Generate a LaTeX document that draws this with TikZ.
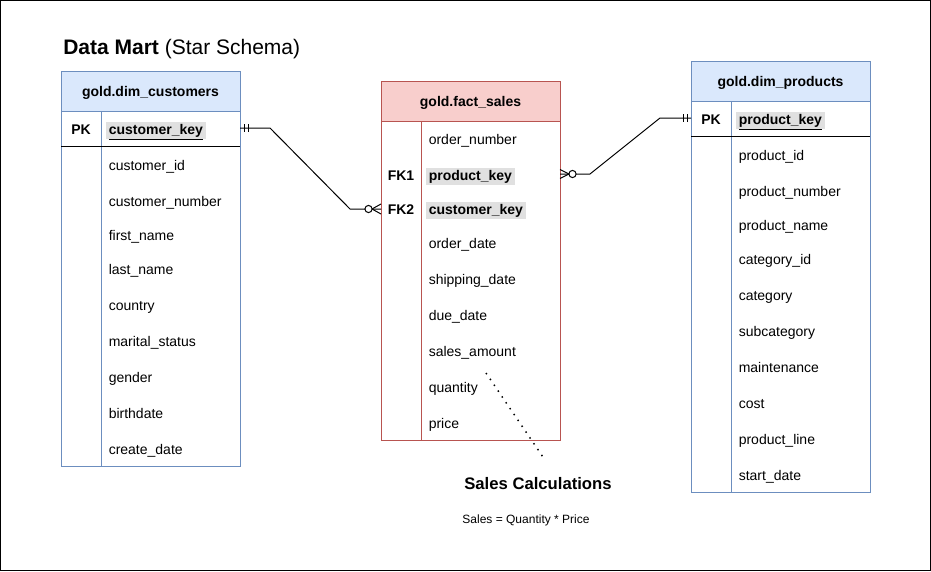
\documentclass[tikz,border=0pt]{standalone}
\usepackage{fontspec}
\setmainfont{Liberation Sans}
\usetikzlibrary{calc}
\definecolor{bluefill}{HTML}{DAE8FC}
\definecolor{blueline}{HTML}{6C8EBF}
\definecolor{redfill}{HTML}{F8CECC}
\definecolor{redline}{HTML}{B85450}
\definecolor{keybg}{HTML}{E0E0E0}
\begin{document}
\begin{tikzpicture}[x=0.75pt,y=-0.75pt,
  rowtxt/.style={anchor=base west, inner xsep=2.25pt, inner ysep=1.2pt, text height=0.75em, text depth=0.22em, font=\fontsize{10.5}{12}\selectfont},
  keytxt/.style={rowtxt, fill=keybg, font=\fontsize{10.5}{12}\selectfont\bfseries},
  lbl/.style={anchor=base, inner sep=0pt, font=\fontsize{10.5}{12}\selectfont\bfseries},
  hdr/.style={anchor=base, inner sep=0pt, font=\fontsize{10.5}{12}\selectfont\bfseries},
  rowbox/.style={minimum width=134.25pt, minimum height=27pt, inner sep=0pt, outer sep=0pt},
  conn/.style={line width=0.75pt, black},
  tblline/.style={line width=0.75pt},
  dots/.style={line width=1.1pt, dash pattern=on 1.1pt off 4.2pt, line cap=butt},
]
\useasboundingbox (0,0) rectangle (931,571);
\draw[line width=0.75pt] (0.5,0.5) rectangle (930.5,570.5);

% title
\node[anchor=base west, inner sep=0pt, font=\fontsize{15.75}{18}\selectfont] (title) at (63,54) {\textbf{Data Mart} (Star Schema)};

% ---------- customers ----------
\fill[bluefill] (61,71) rectangle (240,111);
\draw[blueline,tblline] (61,71) rectangle (240,466);
\draw[blueline,tblline] (61,111) -- (240,111);
\draw[blueline,tblline] (101,111) -- (101,466);
\draw[black,tblline] (61,146.5) -- (240,146.5);
\node[hdr] (custh) at (150.5,96) {gold.dim\_customers};
\node[rowbox] (cpk) at (150.5,128) {};
\node[lbl] (cpkl) at (81,134) {PK};
\node[keytxt] (ck) at (105.5,134) {\underline{customer\_key}};
\node[rowtxt] (c1) at (105.5,170) {customer\_id};
\node[rowtxt] (c2) at (105.5,206) {customer\_number};
\node[rowtxt] (c3) at (105.5,240) {first\_name};
\node[rowtxt] (c4) at (105.5,274) {last\_name};
\node[rowtxt] (c5) at (105.5,310) {country};
\node[rowtxt] (c6) at (105.5,346) {marital\_status};
\node[rowtxt] (c7) at (105.5,382) {gender};
\node[rowtxt] (c8) at (105.5,418) {birthdate};
\node[rowtxt] (c9) at (105.5,454) {create\_date};

% ---------- fact sales ----------
\fill[redfill] (381,81) rectangle (560,121);
\draw[redline,tblline] (381,81) rectangle (560,440);
\draw[redline,tblline] (381,121) -- (560,121);
\draw[redline,tblline] (421,121) -- (421,440);
\node[hdr] (facth) at (470.5,106) {gold.fact\_sales};
\node[rowbox] (fk1) at (470.5,174) {};
\node[rowbox] (fk2) at (470.5,209) {};
\node[rowtxt] (f1) at (425.5,144) {order\_number};
\node[lbl] (fk1l) at (401,180) {FK1};
\node[keytxt] (f2) at (425.5,180) {product\_key};
\node[lbl] (fk2l) at (401,214) {FK2};
\node[keytxt] (f3) at (425.5,214) {customer\_key};
\node[rowtxt] (f4) at (425.5,248) {order\_date};
\node[rowtxt] (f5) at (425.5,284) {shipping\_date};
\node[rowtxt] (f6) at (425.5,320) {due\_date};
\node[rowtxt] (f7) at (425.5,356) {sales\_amount};
\node[rowtxt] (f8) at (425.5,392) {quantity};
\node[rowtxt] (f9) at (425.5,428) {price};

% ---------- products ----------
\fill[bluefill] (691,61) rectangle (870,101);
\draw[blueline,tblline] (691,61) rectangle (870,492);
\draw[blueline,tblline] (691,101) -- (870,101);
\draw[blueline,tblline] (731,101) -- (731,492);
\draw[black,tblline] (691,136.5) -- (870,136.5);
\node[hdr] (prodh) at (780.5,86) {gold.dim\_products};
\node[rowbox] (ppk) at (780.5,118) {};
\node[lbl] (ppkl) at (711,124) {PK};
\node[keytxt] (pk) at (735.5,124) {\underline{product\_key}};
\node[rowtxt] (p1) at (735.5,160) {product\_id};
\node[rowtxt] (p2) at (735.5,196) {product\_number};
\node[rowtxt] (p3) at (735.5,230) {product\_name};
\node[rowtxt] (p4) at (735.5,264) {category\_id};
\node[rowtxt] (p5) at (735.5,300) {category};
\node[rowtxt] (p6) at (735.5,336) {subcategory};
\node[rowtxt] (p7) at (735.5,372) {maintenance};
\node[rowtxt] (p8) at (735.5,408) {cost};
\node[rowtxt] (p9) at (735.5,444) {product\_line};
\node[rowtxt] (p10) at (735.5,480) {start\_date};

% ---------- connectors ----------
\draw[conn] (cpk.east) -- ++(30,0) -- ($(fk2.west)+(-31,0)$) -- (fk2.west);
\draw[conn] ($(cpk.east)+(4,-4)$) -- ++(0,8);
\draw[conn] ($(cpk.east)+(8,-4)$) -- ++(0,8);
\draw[conn] ($(fk2.west)+(0,-5)$) -- ($(fk2.west)+(-9,0)$) -- ($(fk2.west)+(0,5)$);
\draw[conn, fill=white] ($(fk2.west)+(-12.5,0)$) circle[radius=3.6];

\draw[conn] (ppk.west) -- ++(-31,0) -- ($(fk1.east)+(30,0)$) -- (fk1.east);
\draw[conn] ($(ppk.west)+(-4,-4)$) -- ++(0,8);
\draw[conn] ($(ppk.west)+(-8,-4)$) -- ++(0,8);
\draw[conn] ($(fk1.east)+(0,-4.5)$) -- ($(fk1.east)+(9,0)$) -- ($(fk1.east)+(0,4.5)$);
\draw[conn, fill=white] ($(fk1.east)+(12.5,0)$) circle[radius=3.6];

% ---------- note ----------
\coordinate (dA) at (486,373);
\coordinate (dB) at (545,460);
\draw[dots] (dA) -- (dB);
\node[inner sep=0pt, font=\fontsize{12.5}{14}\selectfont\bfseries] (calc) at (538,484) {Sales Calculations};
\node[inner sep=0pt, font=\fontsize{9}{11}\selectfont] (formula) at (526,520) {Sales = Quantity * Price};
\end{tikzpicture}
\end{document}
